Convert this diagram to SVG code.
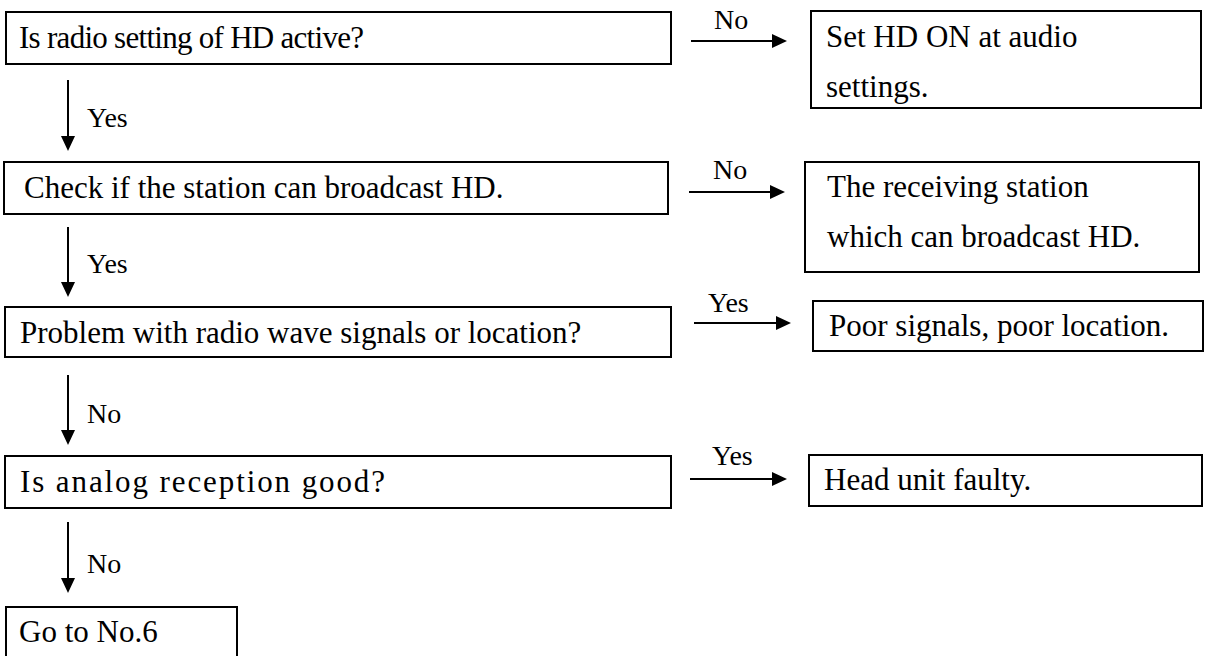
<svg xmlns="http://www.w3.org/2000/svg" width="1212" height="656" viewBox="0 0 1212 656">
<style>
.box{fill:#fff;stroke:#000;stroke-width:2}
.c{stroke:#000;stroke-width:2;fill:none;marker-end:url(#ah)}
</style>
<defs>
<marker id="ah" viewBox="0 0 15 14" refX="3" refY="7" markerWidth="15" markerHeight="14" markerUnits="userSpaceOnUse" orient="auto">
<path d="M0,0 L15,7 L0,14 z" fill="#000"/>
</marker>
</defs>
<rect width="1212" height="656" fill="#fff"/>
<g font-family="Liberation Serif, Times New Roman, DejaVu Serif, serif" font-size="31" fill="#000">
<g id="n1"><rect class="box" x="6" y="12" width="665" height="52"/><text x="19" y="48" textLength="345">Is radio setting of HD active?</text></g>
<g id="n1r"><rect class="box" x="811" y="11" width="390" height="97"/><text x="826" y="47">Set HD ON at audio</text><text x="826" y="97">settings.</text></g>
<g id="n2"><rect class="box" x="4" y="162" width="664" height="52"/><text x="24" y="198">Check if the station can broadcast HD.</text></g>
<g id="n2r"><rect class="box" x="805" y="162" width="394" height="110"/><text x="827" y="197">The receiving station</text><text x="827" y="247">which can broadcast HD.</text></g>
<g id="n3"><rect class="box" x="5" y="307" width="666" height="50"/><text x="20" y="343">Problem with radio wave signals or location?</text></g>
<g id="n3r"><rect class="box" x="813" y="301" width="390" height="50"/><text x="829" y="336">Poor signals, poor location.</text></g>
<g id="n4"><rect class="box" x="5" y="456" width="666" height="52"/><text x="20" y="492" textLength="365">Is analog reception good?</text></g>
<g id="n4r"><rect class="box" x="809" y="455" width="393" height="51"/><text x="824" y="490">Head unit faulty.</text></g>
<g id="n5"><rect class="box" x="6" y="607" width="231" height="60"/><text x="19" y="642">Go to No.6</text></g>
<g id="connectors" font-size="28">
<line class="c" x1="691" y1="41" x2="775" y2="41"/>
<line class="c" x1="689" y1="192" x2="773" y2="192"/>
<line class="c" x1="694" y1="323" x2="779" y2="323"/>
<line class="c" x1="690" y1="479" x2="775" y2="479"/>
<line class="c" x1="68" y1="80" x2="68" y2="139"/>
<line class="c" x1="68" y1="227" x2="68" y2="285"/>
<line class="c" x1="68" y1="375" x2="68" y2="433"/>
<line class="c" x1="68" y1="522" x2="68" y2="581"/>
<text x="714" y="29">No</text>
<text x="713" y="179">No</text>
<text x="708" y="312">Yes</text>
<text x="712" y="465">Yes</text>
<text x="87" y="127">Yes</text>
<text x="87" y="273">Yes</text>
<text x="87" y="423">No</text>
<text x="87" y="573">No</text>
</g>
</g>
</svg>
